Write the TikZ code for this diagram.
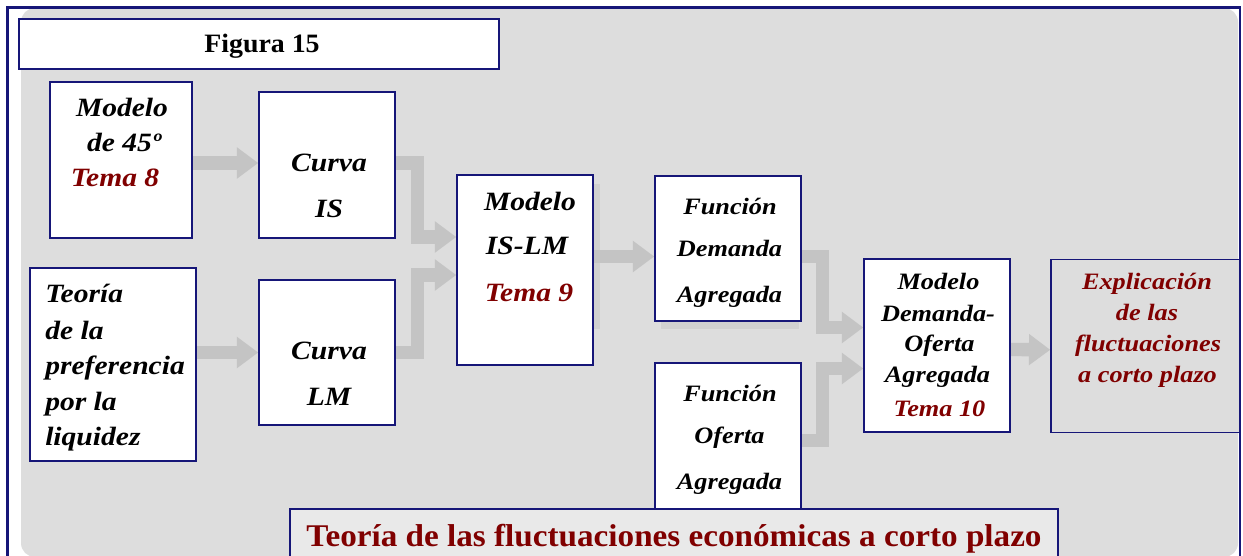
\documentclass[tikz,border=0pt]{standalone}
\usepackage{fontspec}
\usetikzlibrary{arrows.meta,calc,backgrounds}
\newfontfamily\itf[FakeStretch=1.12]{Liberation Serif}
\newfontfamily\upf[FakeStretch=1.05]{Liberation Serif}
\definecolor{navy}{RGB}{22,22,120}
\definecolor{bggray}{RGB}{221,221,221}
\definecolor{argray}{RGB}{196,196,196}
\definecolor{dred}{RGB}{128,0,0}
\definecolor{tgray}{RGB}{233,233,233}
\definecolor{shgray}{RGB}{208,208,208}
\begin{document}
\begin{tikzpicture}[x=0.75pt,y=-0.75pt,
  box/.style args={#1/#2}{draw=navy, line width=1.1pt, fill=white, rectangle,
    inner sep=0pt, minimum width=#1*0.75pt, minimum height=#2*0.75pt},
  ta/.style={inner sep=0pt, text height=13.1pt, text depth=0pt,
    font=\itf\fontsize{19.8pt}{24pt}\selectfont\bfseries\itshape},
  tb/.style={inner sep=0pt, text height=11.6pt, text depth=0pt,
    font=\itf\fontsize{17.6pt}{21pt}\selectfont\bfseries\itshape},
  tred/.style={text=dred},
  arr/.style={draw=argray, line width=10pt, line join=miter,
    -{Triangle[length=16pt,width=22.5pt]}}]
\useasboundingbox (0,0) rectangle (1243,556);
\begin{scope}[on background layer]
  \fill[white] (0,0) rectangle (1243,556);
  \fill[bggray, rounded corners=10.5pt] (21,8) rectangle (1238,557);
  \draw[navy, line width=1.6pt] (7.5,570) -- (7.5,7.5) -- (1240,7.5) -- (1240,570);
\end{scope}

% boxes
\node[box=480/50] (fig) at (259,44) {};
\node[box=142/156] (m45) at (121,160) {};
\node[box=136/146] (is) at (327,165) {};
\node[box=166/193] (teo) at (113,364.5) {};
\node[box=136/145] (lm) at (327,352.5) {};
\node[box=136/190] (islm) at (525,270) {};
\node[box=146/145] (dem) at (728,248.5) {};
\node[box=146/147] (ofe) at (728,436.5) {};
\node[box=146/173] (doa) at (937,345.5) {};
\node[box=189/173, fill=bggray] (exp) at (1145.5,345.8) {};
\node[box=768/52, fill=tgray] (tit) at (674,535) {};

% texts
\node[inner sep=0pt, text height=13.4pt, text depth=0pt,
  font=\upf\fontsize{19.9pt}{24pt}\selectfont\bfseries] (figt) at (262,44) {Figura 15};
\node[ta] (m45a) at (122,107.5) {Modelo};
\node[ta] (m45b) at (124,142.5) {de 45º};
\node[ta,tred] (m45c) at (115,177.5) {Tema 8};
\node[ta] (isa) at (329,162.5) {Curva};
\node[ta] (isb) at (329,209) {IS};
\node[ta,anchor=west] (teoa) at (45,294) {Teoría};
\node[ta,anchor=west] (teob) at (45,331) {de la};
\node[ta,anchor=west] (teoc) at (45,366) {preferencia};
\node[ta,anchor=west] (teod) at (45,401.5) {por la};
\node[ta,anchor=west] (teoe) at (45,436.5) {liquidez};
\node[ta] (lma) at (329,351) {Curva};
\node[ta] (lmb) at (329,397) {LM};
\node[ta] (islma) at (530,202) {Modelo};
\node[ta] (islmb) at (527,246) {IS-LM};
\node[ta,tred] (islmc) at (529,293) {Tema 9};
\node[tb] (dema) at (730,206.5) {Función};
\node[tb] (demb) at (729.5,248.5) {Demanda};
\node[tb] (demc) at (729.5,295) {Agregada};
\node[tb] (ofea) at (730,394) {Función};
\node[tb] (ofeb) at (729.5,436) {Oferta};
\node[tb] (ofec) at (729.5,482) {Agregada};
\node[tb] (doaa) at (938.5,281.5) {Modelo};
\node[tb] (doab) at (938,313.5) {Demanda-};
\node[tb] (doac) at (939.5,343.5) {Oferta};
\node[tb] (doad) at (937.5,375) {Agregada};
\node[tb,tred] (doae) at (939.5,408.5) {Tema 10};
\node[tb,tred] (expa) at (1147,281.5) {Explicación};
\node[tb,tred] (expb) at (1147,313) {de las};
\node[tb,tred] (expc) at (1148,343.5) {fluctuaciones};
\node[tb,tred] (expd) at (1147.5,374.5) {a corto plazo};
\node[inner sep=0pt, text height=15.6pt, text depth=0pt, text=dred,
  font=\upf\fontsize{23.7pt}{28pt}\selectfont\bfseries] (titt) at (674,536.5)
  {Teoría de las fluctuaciones económicas a corto plazo};

% shadows and arrows
\begin{scope}[on background layer]
  \fill[shgray] (islm.north east) ++(0,10) rectangle ++(6,145);
  \fill[shgray] (dem.south west) ++(7,0) rectangle ++(138,7);
  \draw[arr] ($(m45.east)+(0,3)$) -- ($(m45.east -| is.west)+(0,3)$);
  \draw[arr] (lm.west -| teo.east) -- (lm.west);
  \draw[arr] ($(is.east)+(0,-2)$) -- ++(22,0) |- ($(islm.west)+(0,-33)$);
  \draw[arr] (lm.east) -- ++(22,0) |- ($(islm.west)+(0,5)$);
  \draw[arr] ($(dem.west -| islm.east)+(0,8)$) -- ($(dem.west)+(0,8)$);
  \draw[arr] ($(dem.east)+(0,8)$) -- ++(21,0) |- ($(doa.west)+(0,-18)$);
  \draw[arr] ($(ofe.east)+(0,4)$) -- ++(21,0) |- ($(doa.west)+(0,23)$);
  \draw[arr] ($(doa.east)+(0,4)$) -- ($(exp.west)+(0,4)$);
\end{scope}
\end{tikzpicture}
\end{document}
